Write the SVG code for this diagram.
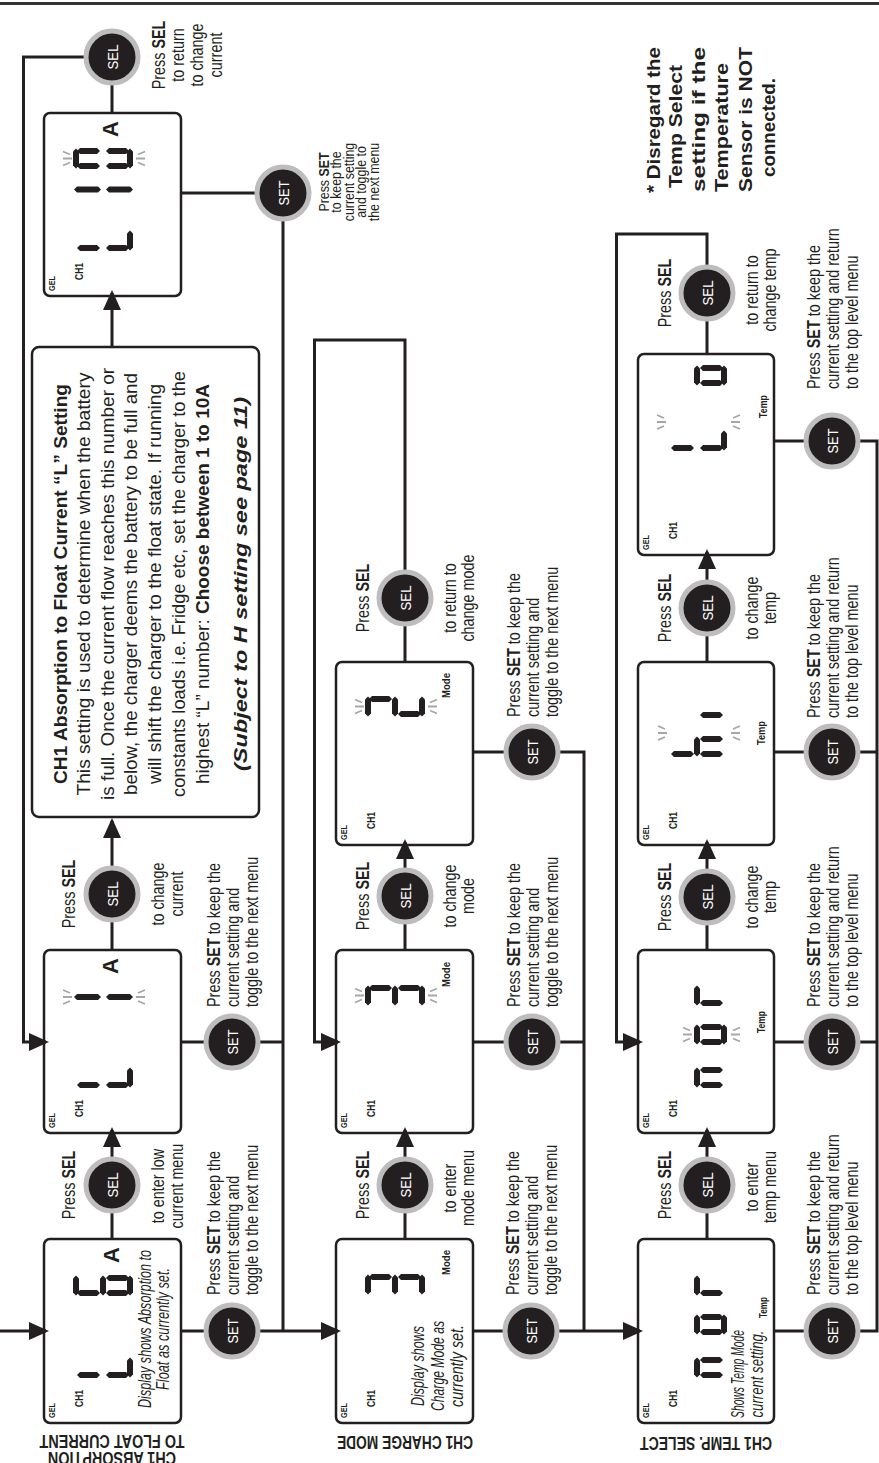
<svg xmlns="http://www.w3.org/2000/svg" width="879" height="1463" viewBox="0 0 879 1463">
<style>
.t{font-family:"Liberation Sans Narrow","Arial Narrow","Liberation Sans",Arial,sans-serif;font-size:18px;fill:#231f20}
.b{font-weight:bold}
.i{font-style:italic}
.ln{fill:none;stroke:#231f20;stroke-width:3}
.box{fill:none;stroke:#231f20;stroke-width:2.5}
.btn circle{fill:#231f20;stroke:#bdbdbd;stroke-width:5}
.btn text{font-family:"Liberation Sans Narrow","Liberation Sans",sans-serif;font-size:15px;fill:#fff;text-anchor:middle}
.lt{font-family:"Liberation Sans Narrow","Liberation Sans",sans-serif;font-weight:bold;fill:#231f20}
.spk{stroke:#a6a6a6;stroke-width:1.8;fill:none}
</style>
<defs>
<marker id="ah" markerUnits="userSpaceOnUse" markerWidth="22" markerHeight="18" refX="17" refY="9" orient="auto"><path d="M0,0 L20,9 L0,18 z" fill="#231f20"/></marker>
<polygon id="H" points="3,0 17,0 20,3 17,6 3,6 0,3" fill="#231f20"/>
<polygon id="V" points="3,0 6,3 6,20 3,23 0,20 0,3" fill="#231f20"/>
<polygon id="VL" points="3,0 6,3 6,24 3,27 0,24 0,3" fill="#231f20"/>
<g id="dL"><use href="#V" y="4"/><use href="#V" y="33"/><use href="#H" x="0.5" y="54"/></g>
<g id="d6"><use href="#H" x="0.5"/><use href="#V" y="4"/><use href="#H" x="0.5" y="27"/><use href="#V" y="33"/><use href="#V" x="15" y="33"/><use href="#H" x="0.5" y="54"/></g>
<g id="d0"><use href="#H" x="0.5"/><use href="#V" y="4"/><use href="#V" x="15" y="4"/><use href="#V" y="33"/><use href="#V" x="15" y="33"/><use href="#H" x="0.5" y="54"/></g>
<g id="d3"><use href="#H" x="0.5"/><use href="#V" x="15" y="4"/><use href="#H" x="0.5" y="27"/><use href="#V" x="15" y="33"/><use href="#H" x="0.5" y="54"/></g>
<g id="d2"><use href="#H" x="0.5"/><use href="#V" x="15" y="4"/><use href="#H" x="0.5" y="27"/><use href="#V" y="33"/><use href="#H" x="0.5" y="54"/></g>
<g id="dn"><use href="#H" x="0.5" y="27"/><use href="#V" y="33"/><use href="#V" x="15" y="33"/></g>
<g id="do"><use href="#H" x="0.5" y="27"/><use href="#V" y="33"/><use href="#V" x="15" y="33"/><use href="#H" x="0.5" y="54"/></g>
<g id="dr"><use href="#H" x="0.5" y="27"/><use href="#V" y="33"/></g>
<g id="dh"><use href="#V" y="4"/><use href="#V" y="33"/><use href="#H" x="0.5" y="27"/><use href="#V" x="15" y="33"/></g>
<g id="d1"><use href="#VL" y="1"/><use href="#VL" y="33"/></g>
<path id="spT" class="spk" d="M-7,-9 L-4,-2 M0,-9 V0 M7,-9 L4,-2"/>
<path id="spB" class="spk" d="M-7,9 L-4,2 M0,9 V0 M7,9 L4,2"/>
</defs>
<rect width="879" height="1463" fill="#fff"/>
<line x1="0" y1="3.5" x2="879" y2="3.5" stroke="#333" stroke-width="3"/>

<g id="connectors" class="ln">
<path d="M0,1331 H46" marker-end="url(#ah)"/>
<path d="M112,1239 V1130" marker-end="url(#ah)"/>
<path d="M112,950 V821" marker-end="url(#ah)"/>
<path d="M112,347 V293" marker-end="url(#ah)"/>
<path d="M112,114 V57 H23.5 V1042 H46" marker-end="url(#ah)"/>
<path d="M181,1331 H338" marker-end="url(#ah)"/>
<path d="M181,1042 H283"/>
<path d="M181,193 H283 V1331"/>
<path d="M405,1239 V1130" marker-end="url(#ah)"/>
<path d="M405,950 V842" marker-end="url(#ah)"/>
<path d="M405,662 V340 H314.5 V1042 H338" marker-end="url(#ah)"/>
<path d="M473,1331 H640" marker-end="url(#ah)"/>
<path d="M473,1042 H584"/>
<path d="M473,752 H584 V1331"/>
<path d="M707,1239 V1130" marker-end="url(#ah)"/>
<path d="M707,950 V842" marker-end="url(#ah)"/>
<path d="M707,662 V552" marker-end="url(#ah)"/>
<path d="M707,354 V234 H616.5 V1042 H640" marker-end="url(#ah)"/>
<path d="M774,441 H877 V1331 H774"/>
<path d="M774,1042 H877"/>
<path d="M774,752 H877"/>
</g>

<!-- LCD displays -->
<g id="lcd1" transform="translate(44,1423) rotate(-90)">
<rect class="box" width="184" height="137" rx="6"/>
<text class="lt" x="5" y="11" font-size="9.5" textLength="15" lengthAdjust="spacingAndGlyphs">GEL</text>
<text class="lt" x="16" y="39" font-size="11" textLength="17" lengthAdjust="spacingAndGlyphs">CH1</text>
<use href="#dL" x="45" y="29"/><use href="#d6" x="127" y="29"/>
<text class="lt" x="168" y="75" font-size="22" text-anchor="middle">A</text>
<text class="t i" x="94" y="107" font-size="15.5" text-anchor="middle" textLength="158" lengthAdjust="spacingAndGlyphs">Display shows Absorption to</text>
<text class="t i" x="94" y="125" font-size="15.5" text-anchor="middle" textLength="122" lengthAdjust="spacingAndGlyphs">Float as currently set.</text>
</g>
<g id="lcd2" transform="translate(44,1133) rotate(-90)">
<rect class="box" width="183" height="137" rx="6"/>
<text class="lt" x="5" y="11" font-size="9.5" textLength="15" lengthAdjust="spacingAndGlyphs">GEL</text>
<text class="lt" x="16" y="39" font-size="11" textLength="17" lengthAdjust="spacingAndGlyphs">CH1</text>
<use href="#dL" x="45" y="29"/><use href="#d1" x="133" y="29"/>
<use href="#spT" x="136" y="28"/><use href="#spB" x="136" y="92"/>
<text class="lt" x="167" y="74" font-size="22" text-anchor="middle">A</text>
</g>
<g id="lcd3" transform="translate(44,296) rotate(-90)">
<rect class="box" width="183" height="137" rx="6"/>
<text class="lt" x="5" y="11" font-size="9.5" textLength="15" lengthAdjust="spacingAndGlyphs">GEL</text>
<text class="lt" x="16" y="39" font-size="11" textLength="17" lengthAdjust="spacingAndGlyphs">CH1</text>
<use href="#dL" x="45" y="29"/><use href="#d1" x="103.5" y="29"/><use href="#d0" x="127" y="29"/>
<use href="#spT" x="137.5" y="28"/><use href="#spB" x="137.5" y="92"/>
<text class="lt" x="167" y="74" font-size="22" text-anchor="middle">A</text>
</g>
<g id="lcd4" transform="translate(336,1423) rotate(-90)">
<rect class="box" width="184" height="137" rx="6"/>
<text class="lt" x="5" y="11" font-size="9.5" textLength="15" lengthAdjust="spacingAndGlyphs">GEL</text>
<text class="lt" x="16" y="39" font-size="11" textLength="17" lengthAdjust="spacingAndGlyphs">CH1</text>
<use href="#d3" x="128" y="29"/>
<text class="lt" x="148" y="114" font-size="11.5" textLength="25" lengthAdjust="spacingAndGlyphs">Mode</text>
<text class="t i" x="57" y="88" font-size="15.5" text-anchor="middle" textLength="80" lengthAdjust="spacingAndGlyphs">Display shows</text>
<text class="t i" x="57" y="107.5" font-size="15.5" text-anchor="middle" textLength="90" lengthAdjust="spacingAndGlyphs">Charge Mode as</text>
<text class="t i" x="57" y="127" font-size="15.5" text-anchor="middle" textLength="82" lengthAdjust="spacingAndGlyphs">currently set.</text>
</g>
<g id="lcd5" transform="translate(336,1133) rotate(-90)">
<rect class="box" width="183" height="137" rx="6"/>
<text class="lt" x="5" y="11" font-size="9.5" textLength="15" lengthAdjust="spacingAndGlyphs">GEL</text>
<text class="lt" x="16" y="39" font-size="11" textLength="17" lengthAdjust="spacingAndGlyphs">CH1</text>
<use href="#d3" x="127" y="29"/>
<use href="#spT" x="137.5" y="28"/><use href="#spB" x="137.5" y="92"/>
<text class="lt" x="146" y="114" font-size="11.5" textLength="25" lengthAdjust="spacingAndGlyphs">Mode</text>
</g>
<g id="lcd6" transform="translate(336,845) rotate(-90)">
<rect class="box" width="183" height="137" rx="6"/>
<text class="lt" x="5" y="11" font-size="9.5" textLength="15" lengthAdjust="spacingAndGlyphs">GEL</text>
<text class="lt" x="16" y="39" font-size="11" textLength="17" lengthAdjust="spacingAndGlyphs">CH1</text>
<use href="#d2" x="128" y="29"/>
<use href="#spT" x="138.5" y="28"/><use href="#spB" x="138.5" y="92"/>
<text class="lt" x="147" y="114" font-size="11.5" textLength="25" lengthAdjust="spacingAndGlyphs">Mode</text>
</g>
<g id="lcd7" transform="translate(638,1423) rotate(-90)">
<rect class="box" width="184" height="136" rx="6"/>
<text class="lt" x="5" y="11" font-size="9.5" textLength="15" lengthAdjust="spacingAndGlyphs">GEL</text>
<text class="lt" x="16" y="39" font-size="11" textLength="17" lengthAdjust="spacingAndGlyphs">CH1</text>
<use href="#dn" x="45" y="29"/><use href="#do" x="88" y="29"/><use href="#dr" x="127" y="29"/>
<text class="lt" x="105" y="129" font-size="11" textLength="21" lengthAdjust="spacingAndGlyphs">Temp</text>
<text class="t i" x="49" y="106" font-size="15" text-anchor="middle" textLength="88" lengthAdjust="spacingAndGlyphs">Shows Temp Mode</text>
<text class="t i" x="49" y="125" font-size="15" text-anchor="middle" textLength="87" lengthAdjust="spacingAndGlyphs">current setting.</text>
</g>
<g id="lcd8" transform="translate(638,1133) rotate(-90)">
<rect class="box" width="183" height="136" rx="6"/>
<text class="lt" x="5" y="11" font-size="9.5" textLength="15" lengthAdjust="spacingAndGlyphs">GEL</text>
<text class="lt" x="16" y="39" font-size="11" textLength="17" lengthAdjust="spacingAndGlyphs">CH1</text>
<use href="#dn" x="45" y="29"/><use href="#do" x="88" y="29"/><use href="#dr" x="127" y="29"/>
<use href="#spT" x="98.5" y="54"/><use href="#spB" x="98.5" y="93"/>
<text class="lt" x="100" y="127" font-size="11" textLength="22" lengthAdjust="spacingAndGlyphs">Temp</text>
</g>
<g id="lcd9" transform="translate(638,845) rotate(-90)">
<rect class="box" width="183" height="136" rx="6"/>
<text class="lt" x="5" y="11" font-size="9.5" textLength="15" lengthAdjust="spacingAndGlyphs">GEL</text>
<text class="lt" x="16" y="39" font-size="11" textLength="17" lengthAdjust="spacingAndGlyphs">CH1</text>
<use href="#dh" x="88" y="29"/><use href="#V" x="127" y="62"/>
<use href="#spT" x="112" y="29"/><use href="#spB" x="112" y="93"/>
<text class="lt" x="100" y="127" font-size="11" textLength="24" lengthAdjust="spacingAndGlyphs">Temp</text>
</g>
<g id="lcd10" transform="translate(638,555) rotate(-90)">
<rect class="box" width="201" height="136" rx="6"/>
<text class="lt" x="5" y="11" font-size="9.5" textLength="15" lengthAdjust="spacingAndGlyphs">GEL</text>
<text class="lt" x="16" y="39" font-size="11" textLength="17" lengthAdjust="spacingAndGlyphs">CH1</text>
<use href="#dL" x="104" y="29"/><use href="#do" x="169" y="29"/>
<use href="#spT" x="133" y="28"/><use href="#spB" x="133" y="93"/>
<text class="lt" x="137" y="129" font-size="11" textLength="23" lengthAdjust="spacingAndGlyphs">Temp</text>
</g>

<!-- Info box -->
<g id="infobox">
<rect class="box" x="32" y="347" width="227" height="470" rx="7"/>
<g transform="translate(0,584) rotate(-90)">
<text class="t b" x="0" y="67" font-size="22" text-anchor="middle" textLength="400" lengthAdjust="spacingAndGlyphs">CH1 Absorption to Float Current “L” Setting</text>
<text class="t" x="0" y="90" font-size="22" text-anchor="middle" textLength="423" lengthAdjust="spacingAndGlyphs">This setting is used to determine when the battery</text>
<text class="t" x="0" y="114" font-size="22" text-anchor="middle" textLength="432" lengthAdjust="spacingAndGlyphs">is full. Once the current flow reaches this number or</text>
<text class="t" x="0" y="137" font-size="22" text-anchor="middle" textLength="422" lengthAdjust="spacingAndGlyphs">below, the charger deems the battery to be full and</text>
<text class="t" x="0" y="161" font-size="22" text-anchor="middle" textLength="400" lengthAdjust="spacingAndGlyphs">will shift the charger to the float state. If running</text>
<text class="t" x="0" y="185" font-size="22" text-anchor="middle" textLength="426" lengthAdjust="spacingAndGlyphs">constants loads i.e. Fridge etc, set the charger to the</text>
<text class="t" x="0" y="209" font-size="22" text-anchor="middle" textLength="400" lengthAdjust="spacingAndGlyphs">highest “L” number: <tspan class="b">Choose between 1 to 10A</tspan></text>
<text class="t b i" x="0" y="247" font-size="24" text-anchor="middle" textLength="374" lengthAdjust="spacingAndGlyphs">(Subject to H setting see page 11)</text>
</g>
</g>

<!-- Buttons -->
<g id="sel1" class="btn" transform="translate(112,1185)"><circle r="26"/><text transform="rotate(-90)" y="5.5" textLength="25" lengthAdjust="spacingAndGlyphs">SEL</text></g>
<g id="sel2" class="btn" transform="translate(112,894)"><circle r="26"/><text transform="rotate(-90)" y="5.5" textLength="25" lengthAdjust="spacingAndGlyphs">SEL</text></g>
<g id="sel3" class="btn" transform="translate(112,57)"><circle r="26"/><text transform="rotate(-90)" y="5.5" textLength="25" lengthAdjust="spacingAndGlyphs">SEL</text></g>
<g id="set1" class="btn" transform="translate(232,1331)"><circle r="26"/><text transform="rotate(-90)" y="5.5" textLength="25" lengthAdjust="spacingAndGlyphs">SET</text></g>
<g id="set2" class="btn" transform="translate(232,1042)"><circle r="26"/><text transform="rotate(-90)" y="5.5" textLength="25" lengthAdjust="spacingAndGlyphs">SET</text></g>
<g id="set3" class="btn" transform="translate(283,193)"><circle r="26"/><text transform="rotate(-90)" y="5.5" textLength="25" lengthAdjust="spacingAndGlyphs">SET</text></g>
<g id="sel4" class="btn" transform="translate(405,1185)"><circle r="26"/><text transform="rotate(-90)" y="5.5" textLength="25" lengthAdjust="spacingAndGlyphs">SEL</text></g>
<g id="sel5" class="btn" transform="translate(405,896)"><circle r="26"/><text transform="rotate(-90)" y="5.5" textLength="25" lengthAdjust="spacingAndGlyphs">SEL</text></g>
<g id="sel6" class="btn" transform="translate(405,598)"><circle r="26"/><text transform="rotate(-90)" y="5.5" textLength="25" lengthAdjust="spacingAndGlyphs">SEL</text></g>
<g id="set4" class="btn" transform="translate(531,1331)"><circle r="26"/><text transform="rotate(-90)" y="5.5" textLength="25" lengthAdjust="spacingAndGlyphs">SET</text></g>
<g id="set5" class="btn" transform="translate(532,1042)"><circle r="26"/><text transform="rotate(-90)" y="5.5" textLength="25" lengthAdjust="spacingAndGlyphs">SET</text></g>
<g id="set6" class="btn" transform="translate(532,752)"><circle r="26"/><text transform="rotate(-90)" y="5.5" textLength="25" lengthAdjust="spacingAndGlyphs">SET</text></g>
<g id="sel7" class="btn" transform="translate(707,1185)"><circle r="26"/><text transform="rotate(-90)" y="5.5" textLength="25" lengthAdjust="spacingAndGlyphs">SEL</text></g>
<g id="sel8" class="btn" transform="translate(707,897)"><circle r="26"/><text transform="rotate(-90)" y="5.5" textLength="25" lengthAdjust="spacingAndGlyphs">SEL</text></g>
<g id="sel9" class="btn" transform="translate(707,608)"><circle r="26"/><text transform="rotate(-90)" y="5.5" textLength="25" lengthAdjust="spacingAndGlyphs">SEL</text></g>
<g id="sel10" class="btn" transform="translate(707,293)"><circle r="26"/><text transform="rotate(-90)" y="5.5" textLength="25" lengthAdjust="spacingAndGlyphs">SEL</text></g>
<g id="set7" class="btn" transform="translate(832,1331)"><circle r="26"/><text transform="rotate(-90)" y="5.5" textLength="25" lengthAdjust="spacingAndGlyphs">SET</text></g>
<g id="set8" class="btn" transform="translate(832,1042)"><circle r="26"/><text transform="rotate(-90)" y="5.5" textLength="25" lengthAdjust="spacingAndGlyphs">SET</text></g>
<g id="set9" class="btn" transform="translate(832,752)"><circle r="26"/><text transform="rotate(-90)" y="5.5" textLength="25" lengthAdjust="spacingAndGlyphs">SET</text></g>
<g id="set10" class="btn" transform="translate(832,441)"><circle r="26"/><text transform="rotate(-90)" y="5.5" textLength="25" lengthAdjust="spacingAndGlyphs">SET</text></g>

<!-- Labels -->
<g id="labels" class="t">
<text transform="translate(75,1185) rotate(-90) scale(0.8,1)" text-anchor="middle">Press <tspan class="b">SEL</tspan></text>
<text transform="translate(112,1186) rotate(-90) scale(0.8,1)" text-anchor="middle"><tspan x="0" y="52">to enter low</tspan><tspan x="0" y="71">current menu</tspan></text>
<text transform="translate(232,1295) rotate(-90) scale(0.8,1)"><tspan x="0" y="-12">Press <tspan class="b">SET</tspan> to keep the</tspan><tspan x="0" y="7">current setting and</tspan><tspan x="0" y="26">toggle to the next menu</tspan></text>
<text transform="translate(75,894) rotate(-90) scale(0.8,1)" text-anchor="middle">Press <tspan class="b">SEL</tspan></text>
<text transform="translate(112,894) rotate(-90) scale(0.8,1)" text-anchor="middle"><tspan x="0" y="52">to change</tspan><tspan x="0" y="71">current</tspan></text>
<text transform="translate(232,1007) rotate(-90) scale(0.8,1)"><tspan x="0" y="-12">Press <tspan class="b">SET</tspan> to keep the</tspan><tspan x="0" y="7">current setting and</tspan><tspan x="0" y="26">toggle to the next menu</tspan></text>
<text transform="translate(112,55) rotate(-90) scale(0.8,1)" text-anchor="middle"><tspan x="0" y="53">Press <tspan class="b">SEL</tspan></tspan><tspan x="0" y="72">to return</tspan><tspan x="0" y="91">to change</tspan><tspan x="0" y="110">current</tspan></text>
<text transform="translate(283,182) rotate(-90) scale(0.8,1)" text-anchor="middle" font-size="15.5"><tspan x="0" y="46">Press <tspan class="b">SET</tspan></tspan><tspan x="0" y="58.5">to keep the</tspan><tspan x="0" y="71">current setting</tspan><tspan x="0" y="83.5">and toggle to</tspan><tspan x="0" y="96">the next menu</tspan></text>

<text transform="translate(369,1185) rotate(-90) scale(0.8,1)" text-anchor="middle">Press <tspan class="b">SEL</tspan></text>
<text transform="translate(405,1188) rotate(-90) scale(0.8,1)" text-anchor="middle"><tspan x="0" y="51">to enter</tspan><tspan x="0" y="69">mode menu</tspan></text>
<text transform="translate(531,1295) rotate(-90) scale(0.8,1)"><tspan x="0" y="-12">Press <tspan class="b">SET</tspan> to keep the</tspan><tspan x="0" y="7">current setting and</tspan><tspan x="0" y="26">toggle to the next menu</tspan></text>
<text transform="translate(369,896) rotate(-90) scale(0.8,1)" text-anchor="middle">Press <tspan class="b">SEL</tspan></text>
<text transform="translate(405,896) rotate(-90) scale(0.8,1)" text-anchor="middle"><tspan x="0" y="51">to change</tspan><tspan x="0" y="69">mode</tspan></text>
<text transform="translate(532,1007) rotate(-90) scale(0.8,1)"><tspan x="0" y="-12">Press <tspan class="b">SET</tspan> to keep the</tspan><tspan x="0" y="7">current setting and</tspan><tspan x="0" y="26">toggle to the next menu</tspan></text>
<text transform="translate(369,598) rotate(-90) scale(0.8,1)" text-anchor="middle">Press <tspan class="b">SEL</tspan></text>
<text transform="translate(405,598) rotate(-90) scale(0.8,1)" text-anchor="middle"><tspan x="0" y="51">to return to</tspan><tspan x="0" y="69">change mode</tspan></text>
<text transform="translate(532,717) rotate(-90) scale(0.8,1)"><tspan x="0" y="-12">Press <tspan class="b">SET</tspan> to keep the</tspan><tspan x="0" y="7">current setting and</tspan><tspan x="0" y="26">toggle to the next menu</tspan></text>

<text transform="translate(671,1185) rotate(-90) scale(0.8,1)" text-anchor="middle">Press <tspan class="b">SEL</tspan></text>
<text transform="translate(707,1187) rotate(-90) scale(0.8,1)" text-anchor="middle"><tspan x="0" y="51">to enter</tspan><tspan x="0" y="69">temp menu</tspan></text>
<text transform="translate(832,1295) rotate(-90) scale(0.8,1)"><tspan x="0" y="-12">Press <tspan class="b">SET</tspan> to keep the</tspan><tspan x="0" y="7">current setting and return</tspan><tspan x="0" y="26">to the top level menu</tspan></text>
<text transform="translate(671,897) rotate(-90) scale(0.8,1)" text-anchor="middle">Press <tspan class="b">SEL</tspan></text>
<text transform="translate(707,897) rotate(-90) scale(0.8,1)" text-anchor="middle"><tspan x="0" y="51">to change</tspan><tspan x="0" y="69">temp</tspan></text>
<text transform="translate(832,1007) rotate(-90) scale(0.8,1)"><tspan x="0" y="-12">Press <tspan class="b">SET</tspan> to keep the</tspan><tspan x="0" y="7">current setting and return</tspan><tspan x="0" y="26">to the top level menu</tspan></text>
<text transform="translate(671,608) rotate(-90) scale(0.8,1)" text-anchor="middle">Press <tspan class="b">SEL</tspan></text>
<text transform="translate(707,608) rotate(-90) scale(0.8,1)" text-anchor="middle"><tspan x="0" y="51">to change</tspan><tspan x="0" y="69">temp</tspan></text>
<text transform="translate(832,718) rotate(-90) scale(0.8,1)"><tspan x="0" y="-12">Press <tspan class="b">SET</tspan> to keep the</tspan><tspan x="0" y="7">current setting and return</tspan><tspan x="0" y="26">to the top level menu</tspan></text>
<text transform="translate(671,293) rotate(-90) scale(0.8,1)" text-anchor="middle">Press <tspan class="b">SEL</tspan></text>
<text transform="translate(707,290) rotate(-90) scale(0.8,1)" text-anchor="middle"><tspan x="0" y="51">to return to</tspan><tspan x="0" y="69">change temp</tspan></text>
<text transform="translate(832,389) rotate(-90) scale(0.8,1)"><tspan x="0" y="-12">Press <tspan class="b">SET</tspan> to keep the</tspan><tspan x="0" y="7">current setting and return</tspan><tspan x="0" y="26">to the top level menu</tspan></text>
</g>

<!-- Note -->
<g id="note" class="t b" font-size="24">
<text transform="translate(0,193) rotate(-90)" x="0" y="660" textLength="146" lengthAdjust="spacingAndGlyphs">* Disregard the</text>
<text transform="translate(0,188) rotate(-90)" x="0" y="682" textLength="123" lengthAdjust="spacingAndGlyphs">Temp Select</text>
<text transform="translate(0,192) rotate(-90)" x="0" y="705" textLength="145" lengthAdjust="spacingAndGlyphs">setting if the</text>
<text transform="translate(0,192) rotate(-90)" x="0" y="728" textLength="129" lengthAdjust="spacingAndGlyphs">Temperature</text>
<text transform="translate(0,192) rotate(-90)" x="0" y="752" textLength="145" lengthAdjust="spacingAndGlyphs">Sensor is NOT</text>
<text transform="translate(0,177) rotate(-90)" x="0" y="775" textLength="99" lengthAdjust="spacingAndGlyphs">connected.</text>
</g>

<!-- Section headings -->
<g id="headings" class="t b" font-size="17" text-anchor="middle">
<text transform="translate(112,1452) rotate(180) scale(0.8,1)"><tspan x="0" y="0">CH1 ABSORPTION</tspan><tspan x="0" y="17">TO FLOAT CURRENT</tspan></text>
<text transform="translate(405,1436) rotate(180)" textLength="136" lengthAdjust="spacingAndGlyphs">CH1 CHARGE MODE</text>
<text transform="translate(706,1437) rotate(180)" textLength="132" lengthAdjust="spacingAndGlyphs">CH1 TEMP. SELECT</text>
</g>
</svg>
